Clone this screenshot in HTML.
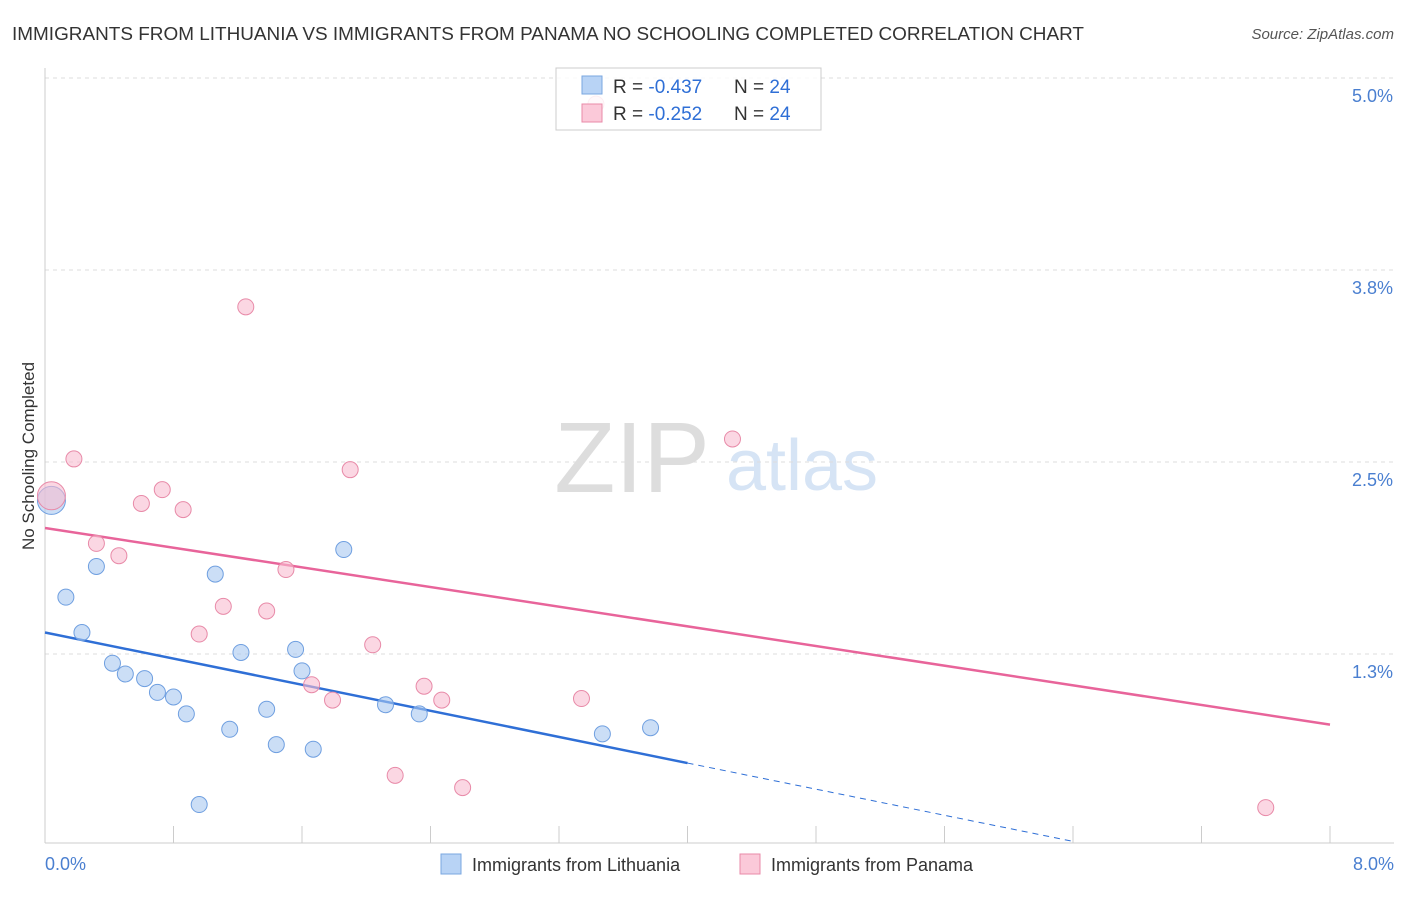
<!DOCTYPE html>
<html><head><meta charset="utf-8"><style>
body{margin:0;background:#fff;font-family:"Liberation Sans",sans-serif;}
svg text{font-family:"Liberation Sans",sans-serif;}
</style></head><body>
<svg id="chart" width="1406" height="892">
<text x="12" y="40" font-size="18" fill="#333" textLength="1072" lengthAdjust="spacingAndGlyphs">IMMIGRANTS FROM LITHUANIA VS IMMIGRANTS FROM PANAMA NO SCHOOLING COMPLETED CORRELATION CHART</text>
<text x="1394" y="39" font-size="15" fill="#555" font-style="italic" text-anchor="end">Source: ZipAtlas.com</text>
<text transform="translate(34,456) rotate(-90)" font-size="17" fill="#333" text-anchor="middle">No Schooling Completed</text>
<text x="632" y="492" font-size="100" fill="#ddd" font-family="Liberation Serif" text-anchor="middle">ZIP</text>
<text x="802" y="490" font-size="72" fill="#d6e4f5" text-anchor="middle">atlas</text>
<g id="grid"></g><g id="lines"></g><g id="points"></g>
<g>
<rect x="556" y="68" width="265" height="62" fill="#fff" fill-opacity="0.85" stroke="#ccc"/>
<rect x="582" y="76" width="20" height="18" fill="#b8d3f5" stroke="#7aa7e0"/>
<rect x="582" y="104" width="20" height="18" fill="#fbc9d9" stroke="#e88aa8"/>
<text x="613" y="93" font-size="19" fill="#333">R = <tspan fill="#2f6fd6">-0.437</tspan></text>
<text x="734" y="93" font-size="19" fill="#333">N = <tspan fill="#2f6fd6">24</tspan></text>
<text x="613" y="120" font-size="19" fill="#333">R = <tspan fill="#2f6fd6">-0.252</tspan></text>
<text x="734" y="120" font-size="19" fill="#333">N = <tspan fill="#2f6fd6">24</tspan></text>
</g>
<g>
<rect x="441" y="854" width="20" height="20" fill="#b8d3f5" stroke="#7aa7e0"/>
<text x="472" y="871" font-size="18" fill="#333">Immigrants from Lithuania</text>
<rect x="740" y="854" width="20" height="20" fill="#fbc9d9" stroke="#e88aa8"/>
<text x="771" y="871" font-size="18" fill="#333">Immigrants from Panama</text>
</g>
</svg>
<script>
const yTicks=[1.25,2.5,3.75,5.0];
const yTickLabels=["1.3%","2.5%","3.8%","5.0%"];
const xTickCount=10;
const xLabels=["0.0%","8.0%"];
const lithX=[0.04,0.13,0.32,0.23,0.42,0.50,0.62,0.70,0.80,0.88,0.96,1.15,1.22,1.06,1.38,1.44,1.56,1.60,1.67,1.86,2.12,2.33,3.47,3.77];
const lithY=[2.25,1.62,1.82,1.39,1.19,1.12,1.09,1.00,0.97,0.86,0.27,0.76,1.26,1.77,0.89,0.66,1.28,1.14,0.63,1.93,0.92,0.86,0.73,0.77];
const panX=[0.04,0.18,0.32,0.46,0.60,0.73,0.86,0.96,1.11,1.25,1.38,1.50,1.66,1.79,1.90,2.04,2.18,2.36,2.47,2.60,3.34,3.43,4.28,7.60];
const panY=[2.28,2.52,1.97,1.89,2.23,2.32,2.19,1.38,1.56,3.51,1.53,1.80,1.05,0.95,2.45,1.31,0.46,1.04,0.95,0.38,0.96,4.83,2.65,0.25];
const lithTrend=[1.39,0.54]; // values at x=0 and x=4
const panTrend=[2.07,0.79];  // values at x=0 and x=8
const X=v=>45+v/8*1285, Y=v=>846-v*153.6;
const NS="http://www.w3.org/2000/svg";
function mk(t,a,p){const e=document.createElementNS(NS,t);for(const k in a)e.setAttribute(k,a[k]);p.appendChild(e);return e;}
const grid=document.getElementById('grid'),lines=document.getElementById('lines'),pts=document.getElementById('points');
yTicks.forEach((v,i)=>{
 const l=mk('line',{x1:45,x2:1394,y1:Y(v),y2:Y(v),stroke:'#ddd','stroke-dasharray':'4,4'},grid);
 
 
 const t=mk('text',{x:1393,y:Y(v)+24,'font-size':18,fill:'#4a7fd0','text-anchor':'end'},grid);t.textContent=yTickLabels[i];
 
 
});
const ax=mk('line',{x1:45,x2:1394,y1:843,y2:843,stroke:'#ccc'},grid);


const ay=mk('line',{x1:45,x2:45,y1:68,y2:843,stroke:'#ccc'},grid);


for(let i=0;i<=xTickCount;i++){const x=X(i*0.8);const t=mk('line',{x1:x,x2:x,y1:826,y2:843,stroke:'#ccc'},grid);
 
 }
[[0,'start',45],[8,'end',1394]].forEach((d,i)=>{const t=mk('text',{x:d[2],y:870,'font-size':18,fill:'#4a7fd0','text-anchor':d[1]},grid);t.textContent=xLabels[i];
 
 });
let e=mk('line',{x1:X(0),y1:Y(lithTrend[0]),x2:X(4),y2:Y(lithTrend[1]),stroke:'#2f6fd6','stroke-width':2.5},lines);


const s=(lithTrend[1]-lithTrend[0])/4, xe=6.4;
e=mk('line',{x1:X(4),y1:Y(lithTrend[1]),x2:X(xe),y2:Y(lithTrend[0]+s*xe),stroke:'#2f6fd6','stroke-width':1,'stroke-dasharray':'6,5'},lines);


e=mk('line',{x1:X(0),y1:Y(panTrend[0]),x2:X(8),y2:Y(panTrend[1]),stroke:'#e8649a','stroke-width':2.5},lines);


function dots(xs,ys,fill,stroke,name){xs.forEach((x,i)=>{const c=mk('circle',{cx:X(x),cy:Y(ys[i]),r:i==0?14:8,fill:fill,'fill-opacity':0.6,stroke:stroke,'stroke-width':1},pts);
 
 });}
dots(lithX,lithY,'#a8c8f0','#6f9fe0','lithuania-point');
dots(panX,panY,'#f8bcd0','#e88aa8','panama-point');
</script>
</body></html>
